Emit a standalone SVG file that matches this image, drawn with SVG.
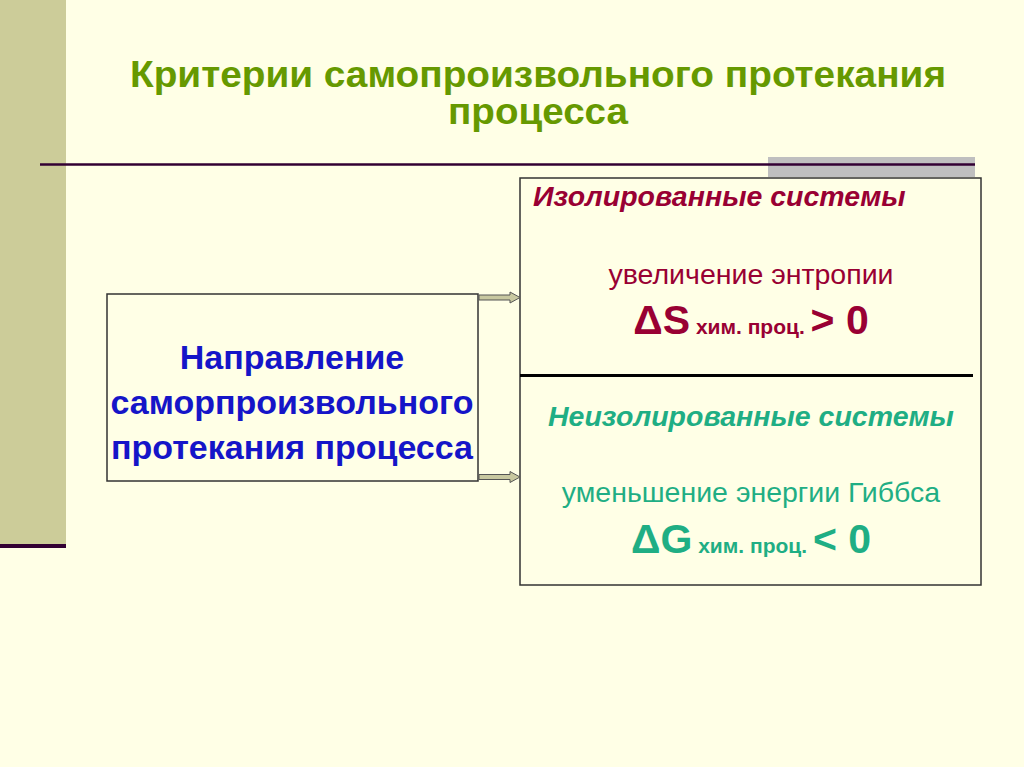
<svg xmlns="http://www.w3.org/2000/svg" width="1024" height="767" viewBox="0 0 1024 767">
<style>
.t{font-family:"Liberation Sans",Arial,sans-serif}
.title{font-family:"Liberation Sans",Arial,sans-serif;font-size:37px;font-weight:bold;fill:#669900}
.blue{font-size:34px;font-weight:bold;fill:#1515C8}
.red{fill:#990033}
.teal{fill:#1FAE84}
.hd{font-size:28.5px;font-weight:bold;font-style:italic}
.nm{font-size:28.5px}
.big{font-size:41px;font-weight:bold}
.sm{font-size:21px;font-weight:bold}
.box{fill:#FFFFE6;stroke:#333;stroke-width:1.5}
.arr{fill:#C8C8A0;stroke:#555;stroke-width:1}
</style>
<rect width="1024" height="767" fill="#FFFFE6"/>
<rect x="0" y="0" width="66" height="545" fill="#CCCC99"/>
<rect x="0" y="544" width="66" height="4" fill="#330033"/>
<rect x="768" y="157" width="207" height="20" fill="#BFBFBF"/>
<line x1="40" y1="164.5" x2="975" y2="164.5" stroke="#330033" stroke-width="2.5"/>
<g id="title">
<text class="title" x="538" y="87" text-anchor="middle" textLength="816" lengthAdjust="spacingAndGlyphs">Критерии самопроизвольного протекания</text>
<text class="title" x="538" y="124" text-anchor="middle" textLength="180" lengthAdjust="spacingAndGlyphs">процесса</text>
</g>
<g id="source">
<rect class="box" x="107" y="294" width="371" height="187"/>
<text class="t blue" x="292" y="369" text-anchor="middle">Направление</text>
<text class="t blue" x="292" y="414" text-anchor="middle">саморпроизвольного</text>
<text class="t blue" x="292" y="459" text-anchor="middle">протекания процесса</text>
</g>
<g id="criteria">
<rect class="box" x="520" y="178" width="461" height="407"/>
<line x1="520" y1="375.5" x2="973" y2="375.5" stroke="#000" stroke-width="3"/>
</g>
<g id="isolated">
<text class="t hd red" x="533" y="206">Изолированные системы</text>
<text class="t nm red" x="751" y="284" text-anchor="middle">увеличение энтропии</text>
<text class="t red" x="751" y="334" text-anchor="middle"><tspan class="big">ΔS</tspan><tspan class="sm"> хим. проц. </tspan><tspan class="big">&gt; 0</tspan></text>
</g>
<g id="nonisolated">
<text class="t hd teal" x="751" y="426" text-anchor="middle">Неизолированные системы</text>
<text class="t nm teal" x="751" y="502" text-anchor="middle">уменьшение энергии Гиббса</text>
<text class="t teal" x="751" y="553" text-anchor="middle"><tspan class="big">ΔG</tspan><tspan class="sm"> хим. проц. </tspan><tspan class="big">&lt; 0</tspan></text>
</g>
<g id="connectors">
<path class="arr" d="M479,295 L510,295 L510,292 L520,297.5 L510,303 L510,300 L479,300 Z"/>
<path class="arr" d="M479,474.5 L510,474.5 L510,471.5 L520,477 L510,482.5 L510,479.5 L479,479.5 Z"/>
</g>
</svg>
